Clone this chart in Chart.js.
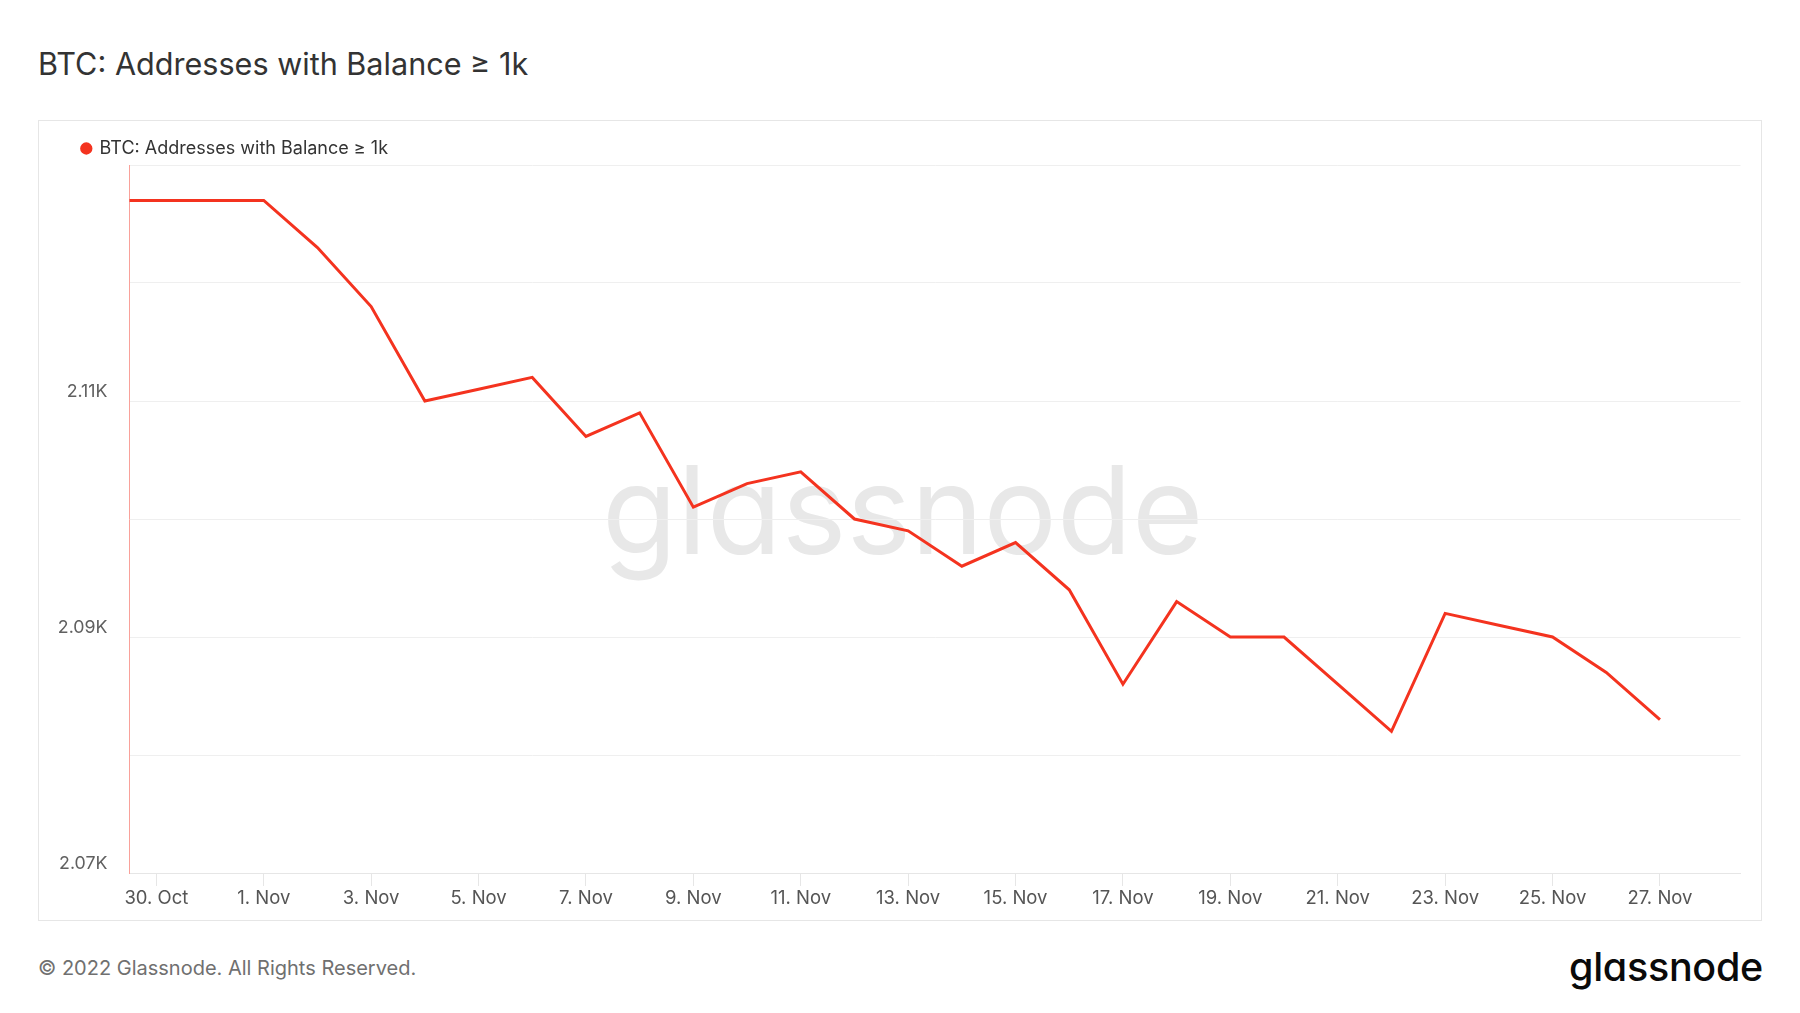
<!DOCTYPE html>
<html>
<head>
<meta charset="utf-8">
<script src="https://cdn.jsdelivr.net/npm/chart.js@4.4.1/dist/chart.umd.min.js"></script>
<style>
  html, body { margin: 0; padding: 0; background: #fff; }
  body { width: 1800px; height: 1013px; position: relative; overflow: hidden; font-family: Inter, 'Noto Sans', sans-serif; }
  .title { position: absolute; left: 38px; top: 49px; font-size: 30.6px; line-height: 30px; color: #333; white-space: nowrap; }
  .box { position: absolute; left: 38px; top: 120px; width: 1724px; height: 801px; border: 1px solid #e6e6e6; box-sizing: border-box; }
  .watermark { position: absolute; left: 602px; top: 449px; font-size: 122.5px; line-height: 1; color: #e8e8e8; font-feature-settings: "cv11"; white-space: nowrap; }
  .chartWrap { position: absolute; left: 39px; top: 121px; width: 1722px; height: 799px; }
  .footer { position: absolute; left: 38px; top: 958px; font-size: 20px; line-height: 1; color: #707070; white-space: nowrap; }
  .logo { position: absolute; left: 1569px; top: 948px; font-size: 39.5px; line-height: 1; font-weight: 500; color: #0a0a0a; font-feature-settings: "cv11"; letter-spacing: -0.3px; white-space: nowrap; }
</style>
</head>
<body>
<div class="title">BTC: Addresses with Balance ≥ 1k</div>
<div class="box"></div>
<div class="watermark">glassnode</div>
<div class="chartWrap"><canvas id="chartBalance"></canvas></div>
<div class="footer">© 2022 Glassnode. All Rights Reserved.</div>
<div class="logo">glassnode</div>

<script>
const seriesName = 'BTC: Addresses with Balance ≥ 1k';
const dates = [
  '29. Oct', '30. Oct', '31. Oct', '1. Nov', '2. Nov', '3. Nov', '4. Nov', '5. Nov',
  '6. Nov', '7. Nov', '8. Nov', '9. Nov', '10. Nov', '11. Nov', '12. Nov', '13. Nov',
  '14. Nov', '15. Nov', '16. Nov', '17. Nov', '18. Nov', '19. Nov', '20. Nov', '21. Nov',
  '22. Nov', '23. Nov', '24. Nov', '25. Nov', '26. Nov', '27. Nov',
];
const addresses = [
  2127, 2127, 2127, 2127, 2123, 2118, 2110, 2111,
  2112, 2107, 2109, 2101, 2103, 2104, 2100, 2099,
  2096, 2098, 2094, 2086, 2093, 2090, 2090, 2086,
  2082, 2092, 2091, 2090, 2087, 2083,
];
const xTickDates = [
  '30. Oct', '1. Nov', '3. Nov', '5. Nov', '7. Nov', '9. Nov', '11. Nov', '13. Nov',
  '15. Nov', '17. Nov', '19. Nov', '21. Nov', '23. Nov', '25. Nov', '27. Nov',
];
const yTickValues = [2070, 2090, 2110];
const yTickLabels = ['2.07K', '2.09K', '2.11K'];

const lineColor = '#f4331f';
// day 0 = first labelled day; axis runs from half a day before it to 1.5 days after the last point
const origin = dates.indexOf(xTickDates[0]);

Chart.defaults.font.family = 'Inter, "Noto Sans", sans-serif';

// legend: a bit less tall than the default, and indented like the reference
const legendTweak = {
  id: 'legendTweak',
  afterInit(chart) {
    if (!chart.legend) return;
    const fit = chart.legend.fit;
    chart.legend.fit = function () {
      fit.call(this);
      this.height -= 2.5;
    };
  },
  afterLayout(chart) {
    if (chart.legend) chart.legend.left += 33;
  },
};

const chartBalanceData = {
  datasets: [
    {
      label: seriesName,
      data: dates.map((d, i) => ({ x: i - origin, y: addresses[i] })),
      borderColor: lineColor,
      backgroundColor: lineColor,
      borderWidth: 3,
      pointRadius: 0,
      tension: 0,
    },
  ],
};

const chartBalanceConfig = {
  type: 'line',
  data: chartBalanceData,
  plugins: [legendTweak],
  options: {
    responsive: true,
    maintainAspectRatio: false,
    animation: false,
    layout: {
      padding: { left: 0, right: 20.5, top: 8.5, bottom: 0 },
    },
    plugins: {
      legend: {
        align: 'start',
        labels: {
          usePointStyle: true,
          pointStyle: 'circle',
          boxWidth: 8.6,
          boxHeight: 6.6,
          padding: 10,
          color: '#333',
          font: { size: 18 },
        },
      },
      tooltip: { enabled: false },
    },
    scales: {
      x: {
        type: 'linear',
        min: -0.5,
        max: dates.length - origin + 0.5,
        afterBuildTicks: (axis) => {
          axis.ticks = xTickDates.map((d) => ({ value: dates.indexOf(d) - origin }));
        },
        afterFit: (scale) => {
          scale.height = 47;
        },
        ticks: {
          autoSkip: false,
          maxRotation: 0,
          padding: 1,
          color: '#555',
          font: { size: 18.5 },
          callback: (v) => dates[v + origin],
        },
        grid: {
          drawOnChartArea: false,
          drawTicks: true,
          tickLength: 13,
          color: '#e6e6e6',
        },
        border: { color: '#e6e6e6', width: 1 },
      },
      y: {
        min: 2070,
        max: 2130,
        afterFit: (scale) => {
          scale.width = 90.5;
        },
        ticks: {
          stepSize: 10,
          padding: 22,
          labelOffset: -9,
          color: '#606060',
          font: { size: 17.8 },
          callback: (v) => {
            const k = yTickValues.indexOf(v);
            return k >= 0 ? yTickLabels[k] : '';
          },
        },
        grid: {
          color: '#efefef',
          drawTicks: false,
        },
        border: { color: '#f9a19a', width: 1 },
      },
    },
  },
};

const chartBalance = new Chart(
  document.getElementById('chartBalance'),
  chartBalanceConfig
);
</script>
</body>
</html>
